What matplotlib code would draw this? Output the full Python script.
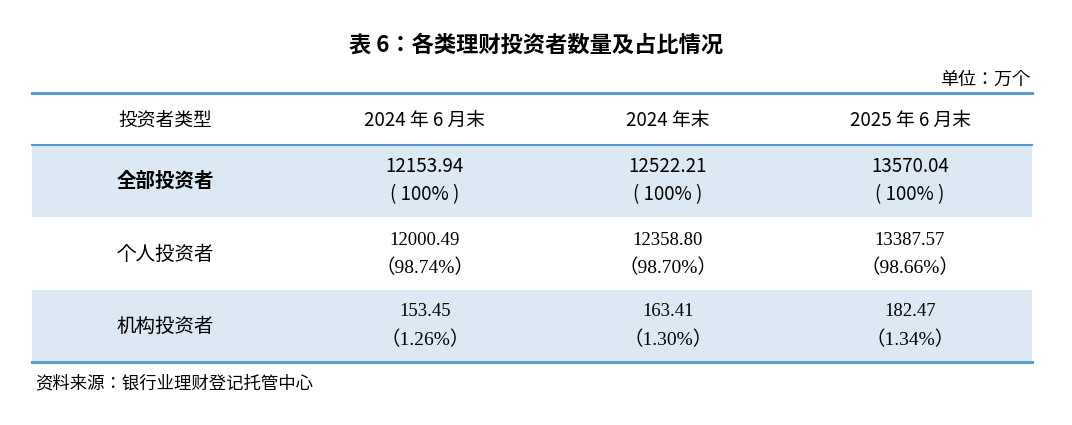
import matplotlib.pyplot as plt
from matplotlib.patches import Rectangle

title = '表 6：各类理财投资者数量及占比情况'
unit = '单位：万个'
source = '资料来源：银行业理财登记托管中心'
columns = ['投资者类型', '2024 年 6 月末', '2024 年末', '2025 年 6 月末']
row_names = ['全部投资者', '个人投资者', '机构投资者']
counts = [
    ['12153.94', '12522.21', '13570.04'],
    ['12000.49', '12358.80', '13387.57'],
    ['153.45', '163.41', '182.47'],
]
shares = [
    ['100%', '100%', '100%'],
    ['98.74%', '98.70%', '98.66%'],
    ['1.26%', '1.30%', '1.34%'],
]

CJK = ['Noto Sans CJK SC', 'Noto Sans CJK JP', 'Noto Sans CJK TC', 'DejaVu Sans']
SERIF = ['Liberation Serif', 'Noto Sans CJK SC', 'Noto Sans CJK JP']
blue_line = '#5b9bd5'
shade = '#dce9f5'

fig = plt.figure(figsize=(10.72, 4.25), dpi=100)
ax = fig.add_axes([0, 0, 1, 1])
ax.set_xlim(0, 1072)
ax.set_ylim(425, 0)
ax.axis('off')

left, right = 32, 1032
col_x = [165, 425, 668, 910]
row_top = [145, 218, 290]
row_h = 72

ax.text(536, 45, title, fontsize=16, fontweight='bold', family=CJK, ha='center', va='center')
ax.text(1030, 80, unit, fontsize=13, family=CJK, ha='right', va='center')

for i, top in enumerate(row_top):
    if i % 2 == 0:
        ax.add_patch(Rectangle((left, top), right - left, row_h, color=shade, lw=0))

ax.plot([left, right], [93, 93], color=blue_line, lw=2.2)
ax.plot([left, right], [145, 145], color=blue_line, lw=1.5)
ax.plot([left, right], [362, 362], color=blue_line, lw=2.2)

for x, c in zip(col_x, columns):
    ax.text(x, 120, c, fontsize=13.5, family=CJK, ha='center', va='center')

for i, top in enumerate(row_top):
    cy = top + row_h / 2
    bold = i == 0
    ax.text(col_x[0], cy, row_names[i], fontsize=14, family=CJK,
            fontweight='bold' if bold else 'normal', ha='center', va='center')
    num_font = CJK if bold else SERIF
    for j in range(3):
        x = col_x[j + 1]
        ax.text(x, cy - 14, counts[i][j], fontsize=13.5,
                family=num_font, ha='center', va='center')
        if bold:
            ax.text(x, cy + 14, '( ' + shares[i][j] + ' )', fontsize=13.5,
                    family=CJK, ha='center', va='center')
        else:
            ax.text(x, cy + 14, '（' + shares[i][j] + '）', fontsize=14,
                    family=SERIF, ha='center', va='center')

ax.text(35, 383, source, fontsize=12.5, family=CJK, ha='left', va='center')

fig.savefig('out.png', dpi=100)
